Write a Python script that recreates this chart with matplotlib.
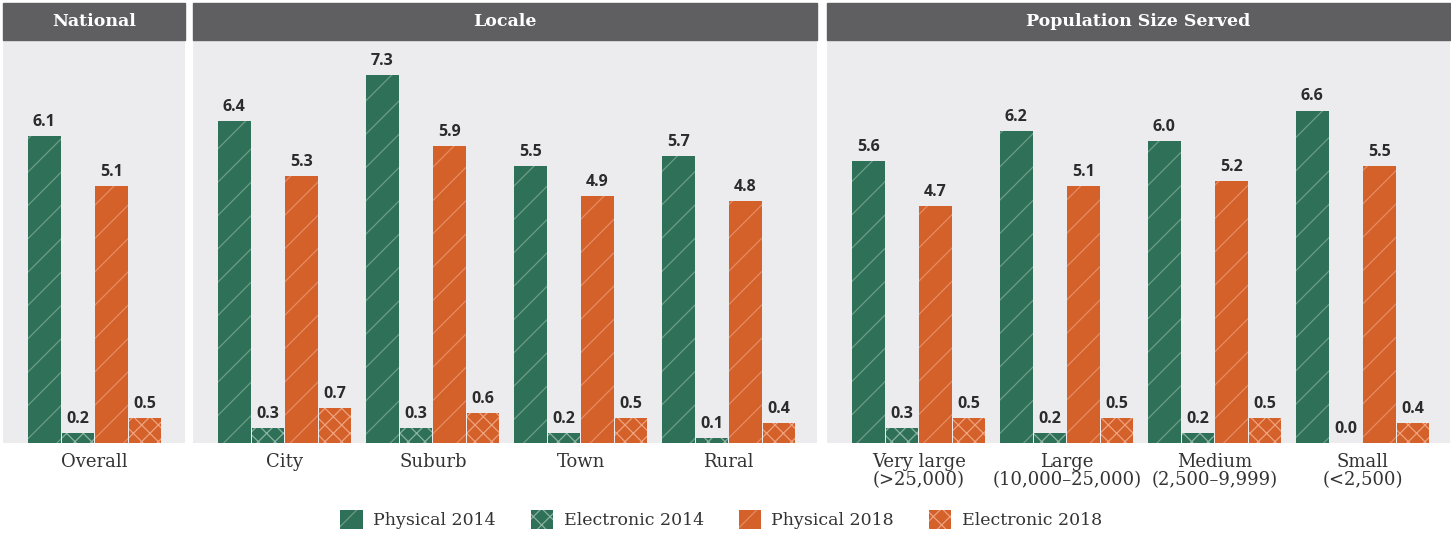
import matplotlib.pyplot as plt
from matplotlib.patches import Patch, Rectangle

plt.rcParams['hatch.linewidth'] = 0.9

# data
panel_titles = ['National', 'Locale', 'Population Size Served']
panel_categories = [
    ['Overall'],
    ['City', 'Suburb', 'Town', 'Rural'],
    ['Very large\n(>25,000)', 'Large\n(10,000\u201325,000)',
     'Medium\n(2,500\u20139,999)', 'Small\n(<2,500)'],
]
series_names = ['Physical 2014', 'Electronic 2014', 'Physical 2018', 'Electronic 2018']
physical_2014 = [[6.1], [6.4, 7.3, 5.5, 5.7], [5.6, 6.2, 6.0, 6.6]]
electronic_2014 = [[0.2], [0.3, 0.3, 0.2, 0.1], [0.3, 0.2, 0.2, 0.0]]
physical_2018 = [[5.1], [5.3, 5.9, 4.9, 4.8], [4.7, 5.1, 5.2, 5.5]]
electronic_2018 = [[0.5], [0.7, 0.6, 0.5, 0.4], [0.5, 0.5, 0.5, 0.4]]

GREEN = '#2f7058'
ORANGE = '#d4602a'
styles = [
    dict(color=GREEN, edgecolor='#6d9c88', hatch='/'),
    dict(color=GREEN, edgecolor='#8ab3a1', hatch='xx'),
    dict(color=ORANGE, edgecolor='#e58c62', hatch='/'),
    dict(color=ORANGE, edgecolor='#eea27e', hatch='xx'),
]
BG = '#ececee'
HEADER = '#5f5f61'

W, H = 1451, 533
fig = plt.figure(figsize=(W / 100, H / 100), dpi=100)

# panel extents in pixels (left, right)
panel_px = [(3, 185), (193, 817), (827, 1450)]
top_px, base_px, head_px = 3, 443, 40
px_per_unit = (base_px - head_px) / 8.0

all_series = [physical_2014, electronic_2014, physical_2018, electronic_2018]
bar_w = 0.22
step = 0.227

for p, (x0, x1) in enumerate(panel_px):
    ax = fig.add_axes([x0 / W, (H - base_px) / H, (x1 - x0) / W, (base_px - top_px) / H])
    ax.set_facecolor(BG)
    ncat = len(panel_categories[p])
    ax.set_xlim(-0.62, -0.62 + (x1 - x0) / 148)
    ax.set_ylim(0, (base_px - top_px) / px_per_unit)
    for s, series in enumerate(all_series):
        xs = [i + (s - 1.5) * step for i in range(ncat)]
        vals = series[p]
        ax.bar(xs, vals, width=bar_w, linewidth=0, **styles[s])
        for x, v in zip(xs, vals):
            ax.text(x, v + 0.12, f'{v:.1f}', ha='center', va='bottom',
                    fontsize=11.5, fontweight='bold', color='#2b2b2b',
                    family='Open Sans')
    # header band
    hb = (base_px - head_px) / (base_px - top_px)
    ax.add_patch(Rectangle((0, hb), 1, 1 - hb, transform=ax.transAxes,
                           color=HEADER, clip_on=False, zorder=3))
    ax.text(0.5, (hb + 1) / 2, panel_titles[p], transform=ax.transAxes,
            ha='center', va='center', color='white', fontsize=12.5,
            fontweight='bold', family='DejaVu Serif', zorder=4)
    ax.set_xticks(range(ncat))
    ax.set_xticklabels(panel_categories[p], family='DejaVu Serif',
                       fontsize=13, color='#333333', linespacing=1.05)
    ax.tick_params(axis='x', length=0, pad=7)
    ax.set_yticks([])
    for sp in ax.spines.values():
        sp.set_visible(False)

handles = [Patch(facecolor=st['color'], edgecolor=st['edgecolor'],
                 hatch=st['hatch'], linewidth=0) for st in styles]
leg = fig.legend(handles, series_names, loc='center', ncol=4,
                 bbox_to_anchor=(0.497, 0.025), frameon=False,
                 prop={'family': 'DejaVu Serif', 'size': 12.5},
                 handlelength=1.3, handleheight=1.3, handletextpad=0.6,
                 columnspacing=2.0)
for t in leg.get_texts():
    t.set_color('#333333')

fig.savefig('out.png', dpi=100)
